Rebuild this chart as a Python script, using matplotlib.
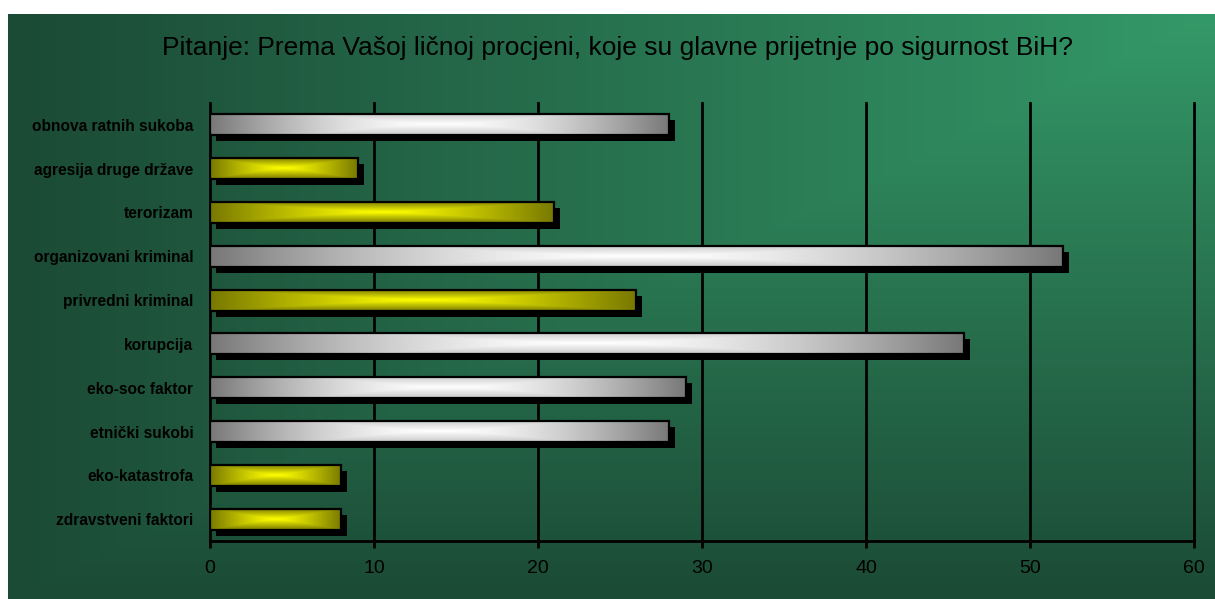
import numpy as np
import matplotlib
matplotlib.use("Agg")
import matplotlib.pyplot as plt
import matplotlib.transforms as mtransforms

# data
categories = ["obnova ratnih sukoba", "agresija druge države", "terorizam",
              "organizovani kriminal", "privredni kriminal", "korupcija",
              "eko-soc faktor", "etnički sukobi", "eko-katastrofa",
              "zdravstveni faktori"]
values = [28, 9, 21, 52, 26, 46, 29, 28, 8, 8]
bar_style = ["silver", "yellow", "yellow", "silver", "yellow", "silver",
             "silver", "silver", "yellow", "yellow"]
xticks = [0, 10, 20, 30, 40, 50, 60]
title = "Pitanje: Prema Vašoj ličnoj procjeni, koje su glavne prijetnje po sigurnost BiH?"

plt.rcParams['font.family'] = ['Liberation Sans', 'DejaVu Sans']

W, H = 1215, 599
fig = plt.figure(figsize=(W / 100, H / 100), dpi=100, facecolor="white")

# background: corner gradient, light at top-right, dark elsewhere
bg = fig.add_axes([8 / W, 0, 1 - 8 / W, 1 - 14 / H])
bg.set_axis_off()
gx = np.linspace(0, 1, 400)
gy = np.linspace(0, 1, 200)
GX, GY = np.meshgrid(gx, gy)
t = np.maximum(1 - GX, GY)
light = np.array([0x34, 0x99, 0x68]) / 255
dark = np.array([0x1b, 0x4a, 0x35]) / 255
img = light[None, None, :] * (1 - t[..., None]) + dark[None, None, :] * t[..., None]
bg.imshow(img, aspect="auto", extent=(0, 1, 1, 0), interpolation="bilinear")
bg.set_xlim(0, 1)
bg.set_ylim(1, 0)

# main axes
left, right = 210 / W, 1194 / W
bottom, top = (H - 541) / H, (H - 103) / H
ax = fig.add_axes([left, bottom, right - left, top - bottom])
ax.set_facecolor("none")

y = np.arange(len(categories))
h = 0.48

ax.set_xlim(0, 60)
ax.set_ylim(len(categories) - 0.5, -0.5)

# shadows
shift = mtransforms.ScaledTranslation(6 / 100, -6 / 100, fig.dpi_scale_trans)
ax.barh(y, values, height=h, color="black", transform=ax.transData + shift, zorder=2)


def grad(kind):
    u = np.abs(np.linspace(-1, 1, 300))
    v = np.abs(np.linspace(-1, 1, 40))
    U, V = np.meshgrid(u, v)
    if kind == "yellow":
        tt = np.maximum(U ** 1.2, V)
        c0, c1 = np.array([1.0, 1.0, 0.0]), np.array([0.47, 0.47, 0.0])
    else:
        tt = np.maximum(U ** 1.6, 0.4 * V)
        c0, c1 = np.array([1.0, 1.0, 1.0]), np.array([0.47, 0.47, 0.47])
    return c0[None, None, :] * (1 - tt[..., None]) + c1[None, None, :] * tt[..., None]


for yi, val, kind in zip(y, values, bar_style):
    ax.imshow(grad(kind), extent=(0, val, yi + h / 2, yi - h / 2),
              aspect="auto", interpolation="bilinear", zorder=3)
ax.barh(y, values, height=h, facecolor="none", edgecolor="black", linewidth=1.6, zorder=4)

ax.set_xlim(0, 60)
ax.set_ylim(len(categories) - 0.5, -0.5)
ax.set_aspect("auto")

ax.set_xticks(xticks)
ax.set_xticklabels([str(x) for x in xticks], fontsize=14)
ax.set_yticks(y)
ax.set_yticklabels(categories, fontsize=11.2, fontweight="bold")
ax.tick_params(axis="y", length=0, pad=12)
ax.tick_params(axis="x", length=5, width=2, pad=9, direction="out")
for xt in xticks[1:]:
    ax.axvline(xt, color="black", linewidth=2, zorder=1, clip_on=False)
for s in ["top", "right"]:
    ax.spines[s].set_visible(False)
ax.spines["left"].set_linewidth(2)
ax.spines["bottom"].set_linewidth(2)

fig.text(617 / W, 1 - 48 / H, title, ha="center", va="center", fontsize=19)

fig.savefig("out.png", dpi=100, facecolor="white")
